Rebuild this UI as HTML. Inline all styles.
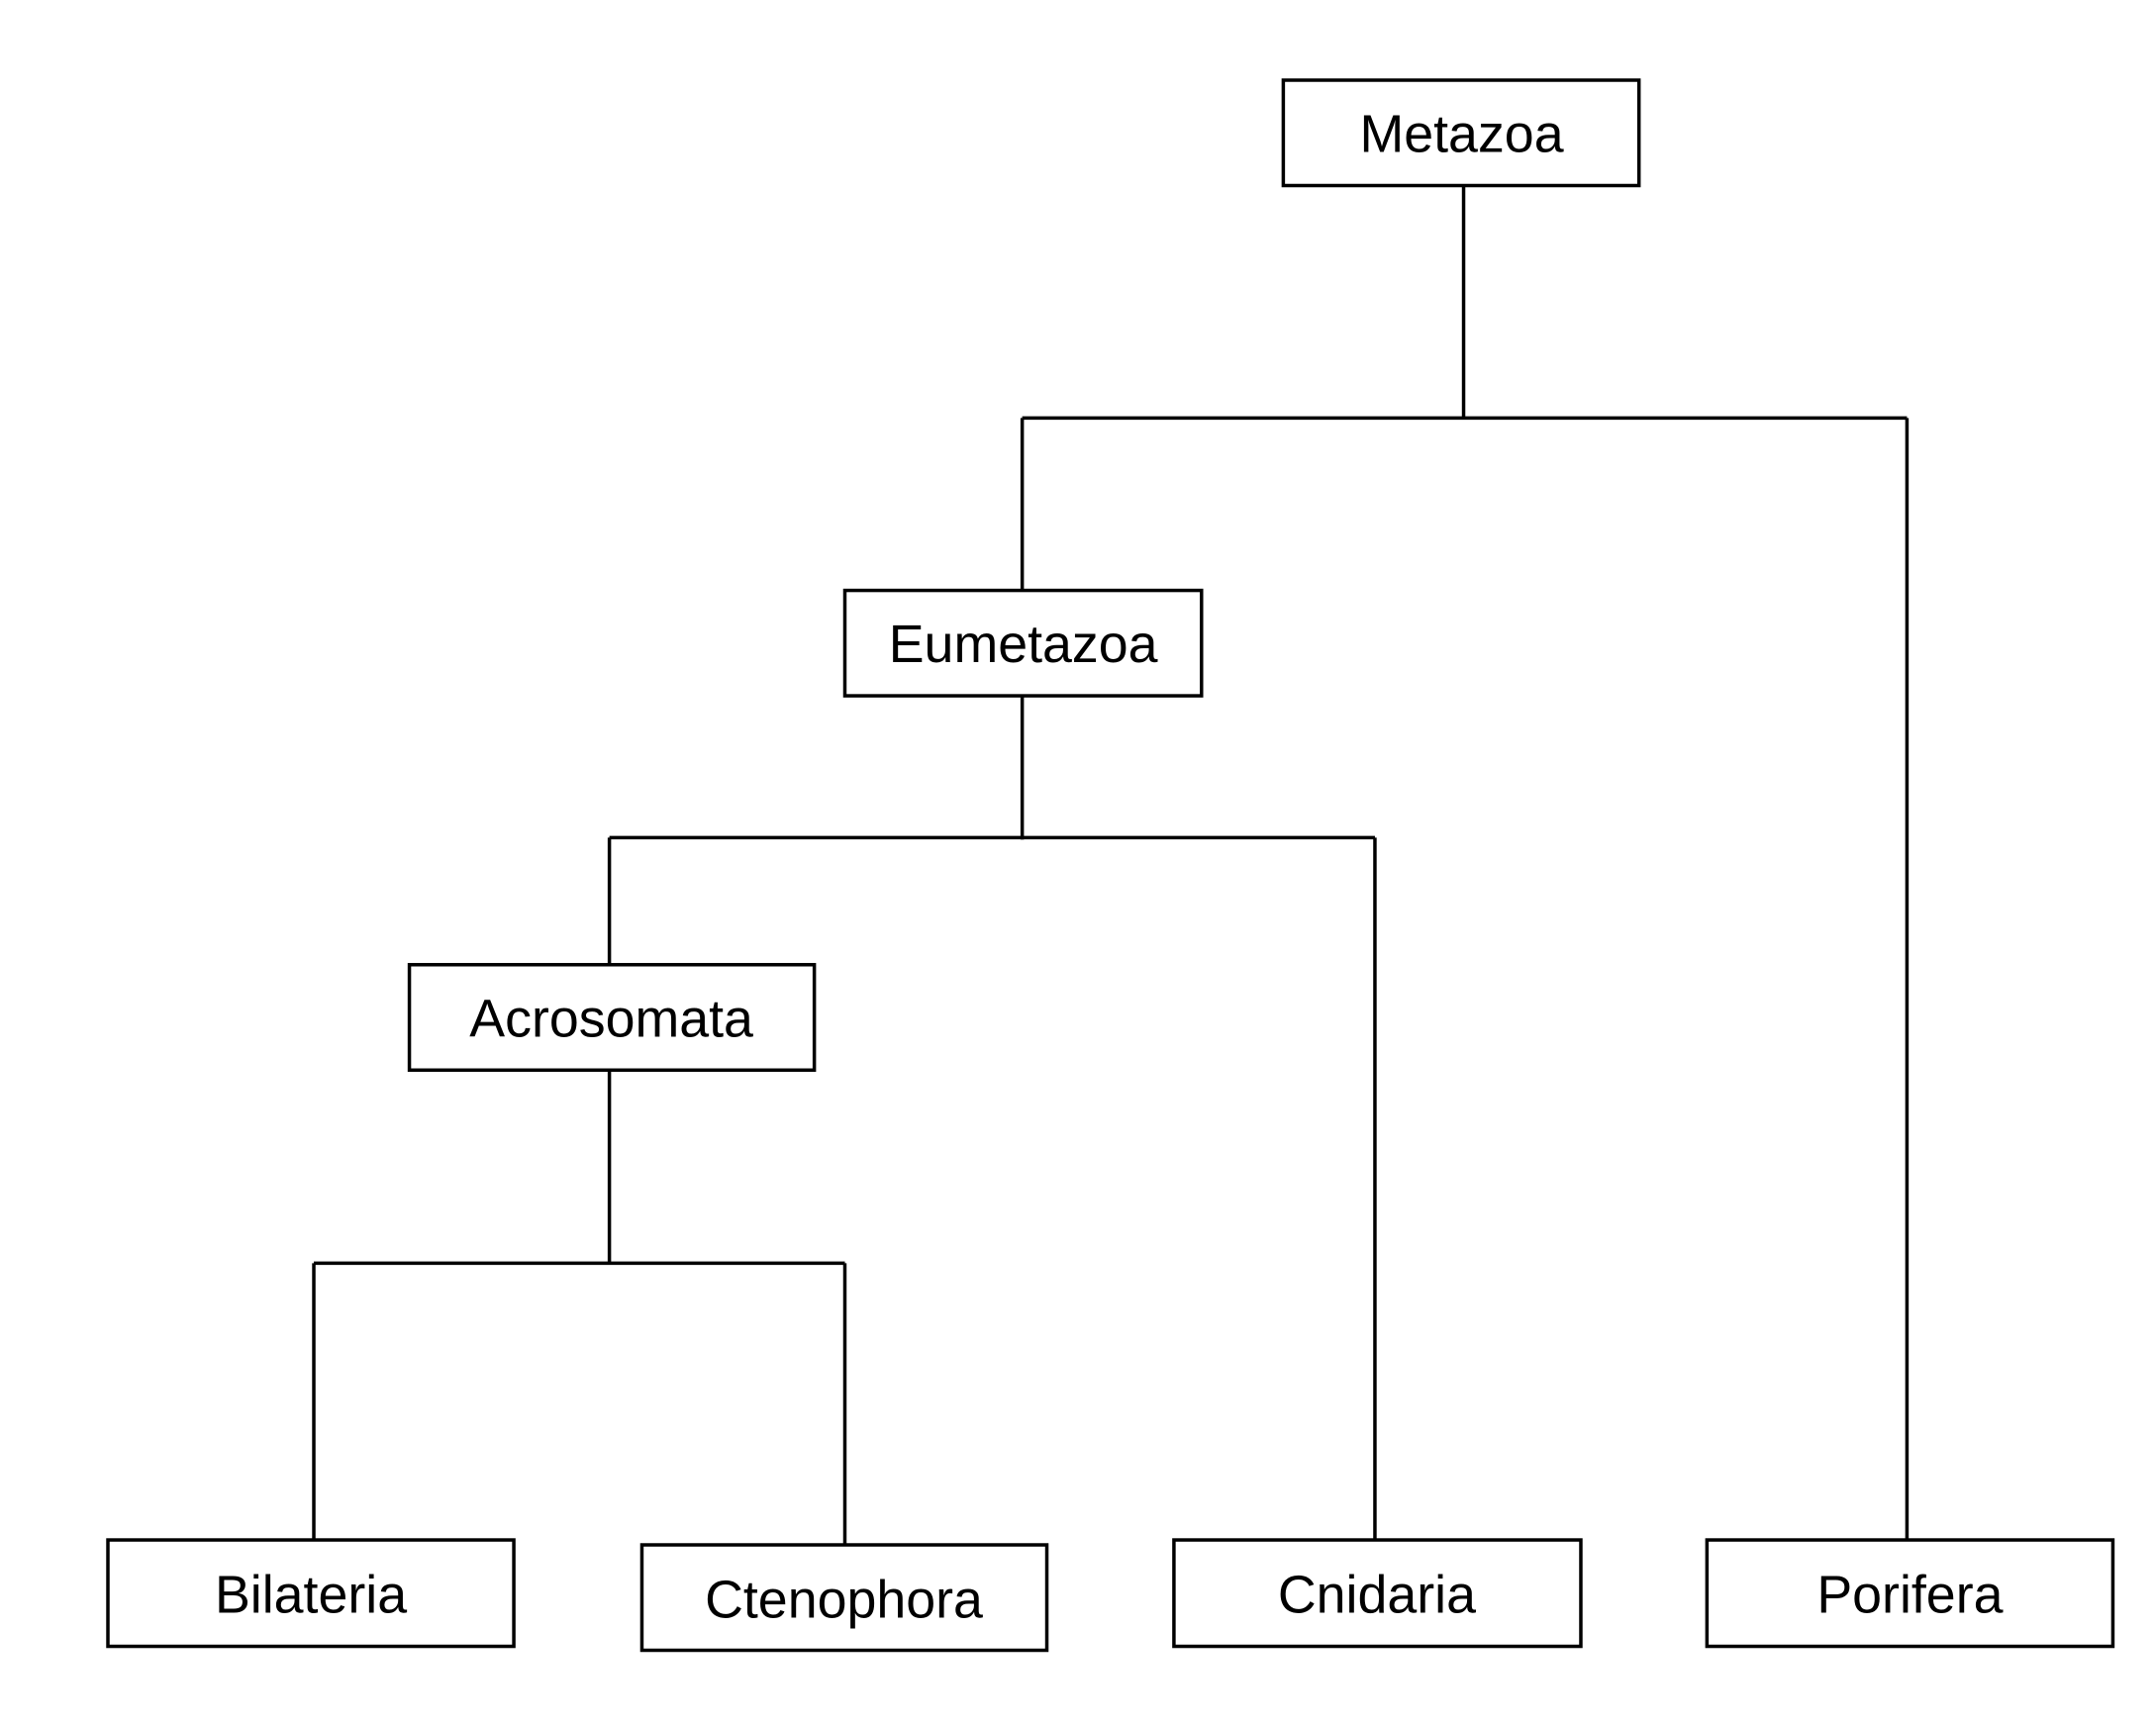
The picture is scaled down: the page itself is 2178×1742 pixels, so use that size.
<!DOCTYPE html>
<html><head><meta charset="utf-8"><style>
body{margin:0;background:#fff;}
</style></head><body>
<svg width="2178" height="1742" xmlns="http://www.w3.org/2000/svg" style="display:block">
<g transform="translate(109,81) scale(0.9953) translate(-109,-81)">
<g fill="none" stroke="#000" stroke-width="3.5">
<rect x="1302" y="81" width="361" height="107"/>
<rect x="857" y="599" width="362" height="107"/>
<rect x="415" y="979" width="411" height="107"/>
<rect x="109" y="1563" width="412" height="108"/>
<rect x="651" y="1568" width="411" height="107"/>
<rect x="1191" y="1563" width="413" height="108"/>
<rect x="1732" y="1563" width="412" height="108"/>
<path d="M1485 188V424M1037 424H1935M1037 424V599M1935 424V1563"/>
<path d="M1037 706V852M618 850H1395M618 850V979M1395 850V1563"/>
<path d="M618 1086V1282M318 1282H857M318 1282V1563M857 1282V1568"/>
</g>
<g font-family="Liberation Sans, sans-serif" font-size="54" text-anchor="middle" fill="#000">
<text x="1483" y="154">Metazoa</text>
<text x="1038" y="672">Eumetazoa</text>
<text x="620" y="1052">Acrosomata</text>
<text x="315" y="1637">Bilateria</text>
<text x="856" y="1642">Ctenophora</text>
<text x="1397" y="1637">Cnidaria</text>
<text x="1938" y="1637">Porifera</text>
</g>
</g>
</svg>
</body></html>
